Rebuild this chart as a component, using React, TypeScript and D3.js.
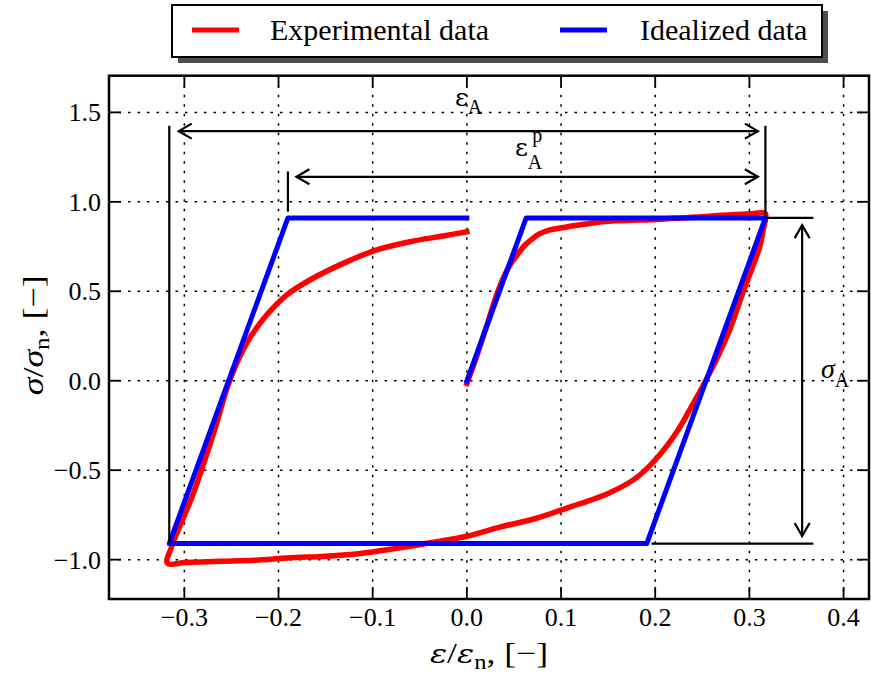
import React from "react";
import * as d3 from "d3";

// ---- Data ----
const expStrain = [
  0.0, 0.01, 0.02, 0.033, 0.04, 0.047, 0.055, 0.062, 0.07, 0.076, 0.088, 0.101, 0.115, 0.129, 0.143, 0.157, 0.176, 0.196, 0.22, 0.25, 0.27, 0.29, 0.305, 0.317,
  0.3145, 0.311, 0.303, 0.294, 0.286, 0.2776, 0.266, 0.254, 0.2385, 0.222, 0.2, 0.178, 0.15, 0.13, 0.11, 0.073, 0.036, 0.0, -0.039, -0.076, -0.113, -0.15, -0.188, -0.225, -0.262, -0.299, -0.318,
  -0.3135, -0.2905, -0.269, -0.2516, -0.2339, -0.2126, -0.1914, -0.1667, -0.1313, -0.0959, -0.0605, -0.0252, 0.0,
];
const expStress = [
  -0.015, 0.13, 0.29, 0.5, 0.59, 0.656, 0.715, 0.76, 0.795, 0.818, 0.843, 0.855, 0.868, 0.878, 0.888, 0.894, 0.897, 0.9, 0.908, 0.916, 0.925, 0.93, 0.935, 0.935,
  0.84, 0.749, 0.63, 0.506, 0.385, 0.265, 0.13, 0.004, -0.145, -0.294, -0.443, -0.55, -0.63, -0.67, -0.705, -0.77, -0.817, -0.869, -0.906, -0.938, -0.966, -0.981, -0.99, -1.003, -1.009, -1.016, -1.02,
  -0.928, -0.63, -0.294, 0.004, 0.209, 0.367, 0.479, 0.563, 0.656, 0.731, 0.777, 0.809, 0.833,
];
const idealStrain = [0, 0.063, 0.317, 0.191, -0.316, -0.19, 0];
const idealStress = [0, 0.91, 0.91, -0.91, -0.91, 0.91, 0.91];

const xTicks = [-0.3, -0.2, -0.1, 0.0, 0.1, 0.2, 0.3, 0.4];
const yTicks = [-1.0, -0.5, 0.0, 0.5, 1.0, 1.5];
const xDomain = [-0.38, 0.427];
const yDomain = [-1.22, 1.705];

// annotation geometry in data coordinates
const guideLines = [
  { x1: -0.316, y1: 1.425, x2: -0.316, y2: -0.91 },
  { x1: -0.19, y1: 1.17, x2: -0.19, y2: 0.945 },
  { x1: 0.317, y1: 1.425, x2: 0.317, y2: 0.91 },
  { x1: 0.317, y1: 0.91, x2: 0.368, y2: 0.91 },
  { x1: 0.196, y1: -0.91, x2: 0.368, y2: -0.91 },
];
const arrows = [
  { x1: -0.306, y1: 1.395, x2: 0.309, y2: 1.395 },
  { x1: -0.181, y1: 1.14, x2: 0.309, y2: 1.14 },
  { x1: 0.356, y1: 0.87, x2: 0.356, y2: -0.868 },
];

const W = 871;
const H = 675;
const FONT = "Liberation Serif, Times New Roman, Times, serif";
const GREEK = "DejaVu Serif, serif";

export default function App() {
  const left = 109, right = 869, top = 75.7, bottom = 599;
  const x = d3.scaleLinear().domain(xDomain).range([left, right]);
  const y = d3.scaleLinear().domain(yDomain).range([bottom, top]);

  const expPts: [number, number][] = expStrain.map((v, i) => [v, expStress[i]]);
  const idealPts: [number, number][] = idealStrain.map((v, i) => [v, idealStress[i]]);
  const expPath =
    d3.line<[number, number]>().x((d) => x(d[0])).y((d) => y(d[1])).curve(d3.curveCatmullRom.alpha(0.5))(expPts) || "";
  const idealPath = d3.line<[number, number]>().x((d) => x(d[0])).y((d) => y(d[1]))(idealPts) || "";

  const head = (a: typeof arrows[0]) => {
    const X1 = x(a.x1), Y1 = y(a.y1), X2 = x(a.x2), Y2 = y(a.y2);
    const ang = Math.atan2(Y2 - Y1, X2 - X1);
    const L = 15, spread = (30 * Math.PI) / 180;
    const mk = (px: number, py: number, dir: number) => {
      const a1 = dir + Math.PI - spread, a2 = dir + Math.PI + spread;
      return `M${px + L * Math.cos(a1)},${py + L * Math.sin(a1)}L${px},${py}L${px + L * Math.cos(a2)},${py + L * Math.sin(a2)}`;
    };
    return mk(X2, Y2, ang) + mk(X1, Y1, ang + Math.PI);
  };

  const fmt = (t: number) => d3.format(".1f")(t).replace("-", "\u2212");

  return (
    <svg width={W} height={H} style={{ position: "absolute", left: 0, top: 0, background: "#fff", fontFamily: FONT }}>
      <rect x={0} y={0} width={W} height={H} fill="#fff" />
      {/* grid */}
      <g stroke="#000" strokeWidth={1.5} strokeDasharray="2.5 7">
        {xTicks.map((t) => (
          <line key={"gx" + t} x1={x(t)} x2={x(t)} y1={top} y2={bottom} />
        ))}
        {yTicks.map((t) => (
          <line key={"gy" + t} x1={left} x2={right} y1={y(t)} y2={y(t)} />
        ))}
      </g>
      {/* ticks */}
      <g stroke="#000" strokeWidth={1.8}>
        {xTicks.map((t) => (
          <g key={"tx" + t}>
            <line x1={x(t)} x2={x(t)} y1={bottom} y2={bottom - 12} />
            <line x1={x(t)} x2={x(t)} y1={top} y2={top + 12} />
          </g>
        ))}
        {yTicks.map((t) => (
          <g key={"ty" + t}>
            <line x1={left} x2={left + 12} y1={y(t)} y2={y(t)} />
            <line x1={right} x2={right - 12} y1={y(t)} y2={y(t)} />
          </g>
        ))}
      </g>
      {/* tick labels */}
      <g fontSize={26} fill="#000">
        {xTicks.map((t) => (
          <text key={"lx" + t} x={x(t)} y={626} textAnchor="middle">
            {fmt(t)}
          </text>
        ))}
        {yTicks.map((t) => (
          <text key={"ly" + t} x={101} y={y(t) + 9} textAnchor="end">
            {fmt(t)}
          </text>
        ))}
      </g>
      {/* data */}
      <path d={expPath} fill="none" stroke="#ff0000" strokeWidth={5.5} strokeLinejoin="round" strokeLinecap="square" />
      <path d={idealPath} fill="none" stroke="#0000ff" strokeWidth={5} strokeLinejoin="round" strokeLinecap="square" />
      {/* annotations */}
      <g stroke="#000" strokeWidth={2.2} fill="none">
        {guideLines.map((g, i) => (
          <line key={"g" + i} x1={x(g.x1)} y1={y(g.y1)} x2={x(g.x2)} y2={y(g.y2)} />
        ))}
        {arrows.map((a, i) => (
          <g key={"a" + i}>
            <line x1={x(a.x1)} y1={y(a.y1)} x2={x(a.x2)} y2={y(a.y2)} />
            <path d={head(a)} />
          </g>
        ))}
      </g>
      <g fill="#000">
        <text x={x(-0.0127)} y={106} fontSize={28}>
          <tspan fontFamily={GREEK} fontSize={25}>ε</tspan>
          <tspan dy={8} fontSize={20}>A</tspan>
        </text>
        <text x={x(0.051)} y={156} fontSize={28}>
          <tspan fontFamily={GREEK} fontSize={25}>ε</tspan>
          <tspan dy={13} fontSize={20}>A</tspan>
          <tspan dx={-10} dy={-27} fontSize={20}>p</tspan>
        </text>
        <text x={x(0.376)} y={378} fontSize={28} fontStyle="italic">
          σ<tspan dy={9} fontSize={20} fontStyle="normal">A</tspan>
        </text>
      </g>
      {/* frame */}
      <rect x={left} y={top} width={right - left} height={bottom - top} fill="none" stroke="#000" strokeWidth={2.5} />
      {/* axis labels */}
      <text x={489} y={663} fontSize={29} textAnchor="middle" textLength={118} lengthAdjust="spacingAndGlyphs">
        <tspan fontStyle="italic" fontFamily={GREEK} fontSize={26}>ε</tspan>
        <tspan>/</tspan>
        <tspan fontStyle="italic" fontFamily={GREEK} fontSize={26}>ε</tspan>
        <tspan dy={6} fontSize={20}>n</tspan>
        <tspan dy={-6}>, [−]</tspan>
      </text>
      <text
        transform={`translate(43,${(top + bottom) / 2 - 2}) rotate(-90)`}
        fontSize={29}
        textAnchor="middle"
        textLength={120}
        lengthAdjust="spacingAndGlyphs"
      >
        <tspan fontStyle="italic">σ</tspan>
        <tspan>/</tspan>
        <tspan fontStyle="italic">σ</tspan>
        <tspan dy={6} fontSize={20}>n</tspan>
        <tspan dy={-6}>, [−]</tspan>
      </text>
      {/* legend */}
      <g>
        <rect x={178} y={11} width={650} height={52} fill="#4d4d4d" />
        <rect x={172} y={5} width={650} height={52} fill="#fff" stroke="#000" strokeWidth={2} />
        <line x1={192} x2={239} y1={30} y2={30} stroke="#ff0000" strokeWidth={5} />
        <text x={270} y={40} fontSize={30}>Experimental data</text>
        <line x1={560} x2={607} y1={30} y2={30} stroke="#0000ff" strokeWidth={5} />
        <text x={640} y={40} fontSize={30}>Idealized data</text>
      </g>
    </svg>
  );
}
